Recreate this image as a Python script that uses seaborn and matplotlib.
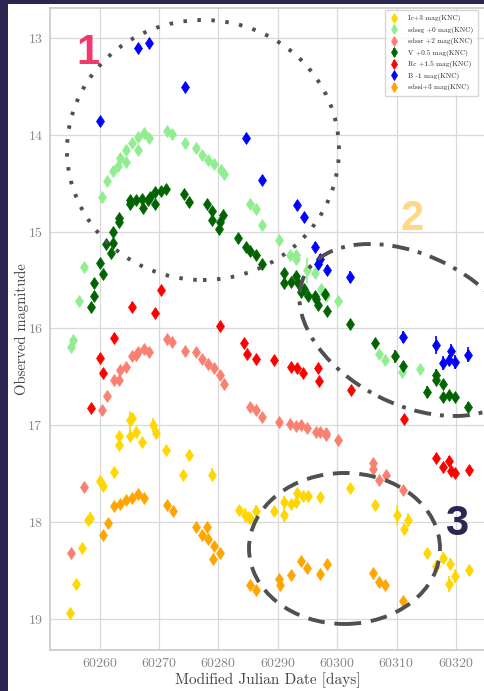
import matplotlib
matplotlib.use("Agg")
import matplotlib.pyplot as plt
import seaborn as sns
from matplotlib.patches import Ellipse, Rectangle
from matplotlib.transforms import IdentityTransform

# ---------------------------------------------------------------------------
# Light curves (magnitudes already shifted by the offsets given in the labels)
# ---------------------------------------------------------------------------
ic_mjd = [60255.0, 60256.1, 60257.1, 60258.0, 60258.4, 60260.1, 60260.5, 60262.5,
          60263.2, 60263.2, 60265.1, 60265.4, 60265.1, 60266.1, 60267.2, 60269.0,
          60269.5, 60271.2, 60274.1, 60275.1, 60279.0, 60283.4, 60284.5, 60285.0,
          60285.4, 60286.3, 60289.4, 60291.1, 60291.1, 60292.3, 60293.0, 60293.2,
          60294.3, 60295.1, 60297.1, 60302.2, 60306.3, 60310.0, 60311.2, 60311.9,
          60315.1, 60316.6, 60317.8, 60319.0, 60318.9, 60319.9, 60322.2]
ic_mag = [18.94, 18.64, 18.27, 17.98, 17.96, 17.58, 17.63, 17.48,
          17.11, 17.21, 16.95, 16.93, 17.11, 17.07, 17.17, 17.00,
          17.08, 17.26, 17.51, 17.31, 17.51, 17.88, 17.93, 17.95,
          17.96, 17.89, 17.89, 17.79, 17.93, 17.81, 17.79, 17.70,
          17.73, 17.73, 17.74, 17.65, 17.82, 17.93, 18.07, 17.98,
          18.32, 18.46, 18.37, 18.43, 18.64, 18.56, 18.50]
ic_err = [0.03, 0.03, 0.03, 0.04, 0.06, 0.05, 0.04, 0.05,
          0.04, 0.04, 0.10, 0.06, 0.06, 0.05, 0.04, 0.07,
          0.04, 0.04, 0.05, 0.05, 0.07, 0.04, 0.07, 0.04,
          0.04, 0.06, 0.05, 0.06, 0.07, 0.04, 0.04, 0.04,
          0.04, 0.04, 0.04, 0.03, 0.04, 0.10, 0.06, 0.07,
          0.05, 0.05, 0.06, 0.06, 0.08, 0.07, 0.06]

g_mjd = [60255.2, 60255.5, 60256.5, 60257.4, 60260.4, 60261.3, 60262.3, 60263.1,
         60263.4, 60264.5, 60264.5, 60265.4, 60266.4, 60266.4, 60267.4, 60268.4,
         60271.3, 60272.2, 60274.4, 60276.2, 60277.3, 60278.3, 60279.2, 60280.4,
         60280.9, 60285.3, 60286.3, 60287.3, 60290.2, 60292.0, 60293.0, 60293.0,
         60295.0, 60296.2, 60297.2, 60298.2, 60300.1, 60307.1, 60308.0, 60311.0,
         60313.9]
g_mag = [16.19, 16.12, 15.72, 15.37, 14.64, 14.48, 14.37, 14.32,
         14.24, 14.28, 14.16, 14.08, 14.02, 14.16, 13.98, 14.03,
         13.96, 13.99, 14.08, 14.14, 14.21, 14.26, 14.30, 14.36,
         14.40, 14.71, 14.77, 14.93, 15.09, 15.24, 15.24, 15.28,
         15.40, 15.43, 15.59, 15.67, 15.72, 16.26, 16.33, 16.45,
         16.42]
g_err = [0.03] * 32 + [0.13] + [0.03] * 8

r_mjd = [60255.2, 60257.4, 60260.4, 60261.3, 60262.4, 60263.2, 60263.4, 60264.5,
         60265.4, 60266.1, 60266.5, 60267.5, 60268.4, 60271.3, 60272.2, 60274.4,
         60276.3, 60277.3, 60278.3, 60279.3, 60280.3, 60280.9, 60285.3, 60286.3,
         60287.4, 60290.2, 60292.1, 60293.0, 60294.0, 60295.0, 60296.4, 60297.1,
         60298.2, 60298.2, 60300.1, 60306.0, 60306.0, 60307.1, 60308.2, 60311.1]
r_mag = [18.32, 17.64, 16.84, 16.70, 16.53, 16.53, 16.43, 16.40,
         16.29, 16.27, 16.24, 16.21, 16.24, 16.11, 16.14, 16.23,
         16.24, 16.32, 16.37, 16.41, 16.48, 16.57, 16.81, 16.84,
         16.92, 16.97, 16.99, 17.01, 17.00, 17.03, 17.07, 17.07,
         17.08, 17.10, 17.15, 17.39, 17.45, 17.57, 17.51, 17.67]
r_err = [0.03, 0.04] + [0.03] * 33 + [0.04, 0.04, 0.03, 0.03, 0.03]

v_mjd = [60258.5, 60259.1, 60259.1, 60260.1, 60260.5, 60261.1, 60262.0, 60262.2,
         60262.3, 60263.2, 60263.2, 60265.1, 60265.1, 60266.1, 60267.1, 60267.3,
         60268.2, 60268.5, 60269.3, 60269.4, 60270.3, 60271.2, 60274.2, 60275.1,
         60278.1, 60279.0, 60279.0, 60280.1, 60280.3, 60280.8, 60283.3, 60284.7,
         60285.3, 60286.3, 60287.3, 60291.1, 60291.1, 60292.3, 60293.0, 60293.4,
         60294.0, 60294.5, 60295.1, 60296.2, 60296.4, 60296.8, 60297.9, 60298.3,
         60302.2, 60306.3, 60309.8, 60311.1, 60315.2, 60316.7, 60316.7, 60317.9,
         60317.9, 60318.9, 60319.9, 60322.1]
v_mag = [15.78, 15.67, 15.53, 15.32, 15.44, 15.13, 15.22, 15.00,
         15.12, 14.86, 14.90, 14.67, 14.72, 14.67, 14.66, 14.76,
         14.67, 14.64, 14.59, 14.71, 14.58, 14.56, 14.61, 14.69,
         14.71, 14.79, 14.88, 14.97, 14.90, 14.83, 15.07, 15.16,
         15.20, 15.24, 15.33, 15.43, 15.53, 15.52, 15.46, 15.53,
         15.62, 15.59, 15.67, 15.67, 15.70, 15.76, 15.65, 15.82,
         15.95, 16.15, 16.29, 16.39, 16.66, 16.48, 16.53, 16.57,
         16.71, 16.69, 16.71, 16.81]
v_err = [0.04, 0.04, 0.04, 0.04, 0.03, 0.03, 0.04, 0.03,
         0.03, 0.03, 0.03, 0.03, 0.03, 0.04, 0.03, 0.03,
         0.03, 0.03, 0.03, 0.03, 0.03, 0.03, 0.04, 0.03,
         0.03, 0.03, 0.03, 0.03, 0.03, 0.03, 0.03, 0.03,
         0.03, 0.03, 0.03, 0.03, 0.03, 0.03, 0.03, 0.03,
         0.03, 0.03, 0.03, 0.03, 0.03, 0.03, 0.03, 0.03,
         0.04, 0.04, 0.07, 0.04, 0.06, 0.06, 0.04, 0.04,
         0.04, 0.04, 0.04, 0.05]

rc_mjd = [60258.5, 60260.0, 60260.5, 60262.4, 60265.4, 60269.4, 60270.3, 60280.3,
          60284.3, 60284.8, 60286.3, 60289.3, 60292.3, 60293.3, 60294.3, 60296.8,
          60296.9, 60302.3, 60311.2, 60316.7, 60317.9, 60318.9, 60319.1, 60319.9,
          60322.2]
rc_mag = [16.82, 16.31, 16.46, 16.10, 15.78, 15.84, 15.60, 15.98,
          16.15, 16.26, 16.32, 16.33, 16.40, 16.41, 16.46, 16.41,
          16.54, 16.64, 16.94, 17.34, 17.43, 17.37, 17.47, 17.49,
          17.46]
rc_err = [0.04] * 4 + [0.05] + [0.04] * 16 + [0.05] + [0.04] * 3

b_mjd = [60260.0, 60266.4, 60268.4, 60274.4, 60284.7, 60287.3, 60293.3, 60294.4,
         60296.3, 60296.8, 60297.1, 60298.3, 60302.2, 60311.1, 60316.7, 60317.9,
         60318.9, 60319.2, 60319.9, 60322.1]
b_mag = [13.86, 13.10, 13.05, 13.51, 14.03, 14.47, 14.73, 14.85,
         15.16, 15.33, 15.28, 15.40, 15.47, 16.09, 16.17, 16.36,
         16.33, 16.23, 16.35, 16.27]
b_err = [0.04, 0.04, 0.04, 0.04, 0.04, 0.04, 0.05, 0.04,
         0.05, 0.05, 0.05, 0.05, 0.06, 0.06, 0.09, 0.07,
         0.06, 0.07, 0.07, 0.08]

i_mjd = [60260.5, 60261.5, 60262.5, 60263.4, 60264.5, 60265.4, 60266.4, 60267.5,
         60271.3, 60272.4, 60276.3, 60277.3, 60278.1, 60278.3, 60279.3, 60279.1,
         60280.3, 60285.3, 60286.4, 60290.2, 60290.3, 60292.2, 60293.9, 60295.0,
         60297.1, 60298.3, 60306.0, 60307.1, 60308.0, 60311.1]
i_mag = [18.13, 18.01, 17.84, 17.81, 17.77, 17.75, 17.71, 17.75,
         17.83, 17.89, 18.05, 18.13, 18.05, 18.18, 18.25, 18.38,
         18.32, 18.65, 18.70, 18.59, 18.65, 18.55, 18.40, 18.48,
         18.54, 18.43, 18.53, 18.62, 18.65, 18.82]
i_err = [0.03] * 12 + [0.04, 0.03, 0.03, 0.05, 0.04, 0.03, 0.04, 0.04] + [0.03] * 9 + [0.04]

bands = [
    ("Ic+3 mag(KNC)", "#FFD700", ic_mjd, ic_mag, ic_err),
    ("sdssg +0 mag(KNC)", "lightgreen", g_mjd, g_mag, g_err),
    ("sdssr +2 mag(KNC)", "salmon", r_mjd, r_mag, r_err),
    ("V +0.5 mag(KNC)", "darkgreen", v_mjd, v_mag, v_err),
    ("Rc +1.5 mag(KNC)", "red", rc_mjd, rc_mag, rc_err),
    ("B -1 mag(KNC)", "blue", b_mjd, b_mag, b_err),
    ("sdssi+3 mag(KNC)", "orange", i_mjd, i_mag, i_err),
]

x_ticks = [60260, 60270, 60280, 60290, 60300, 60310, 60320]
y_ticks = [13, 14, 15, 16, 17, 18, 19]

# ---------------------------------------------------------------------------
sns.set_theme(style="whitegrid")
plt.rcParams["font.family"] = ["cmr10", "DejaVu Serif"]
plt.rcParams["axes.formatter.use_mathtext"] = True
plt.rcParams["mathtext.fontset"] = "cm"

W, H = 485, 691
fig = plt.figure(figsize=(W / 100, H / 100), dpi=100)
fig.patch.set_facecolor("#2a2650")
fig.add_artist(Rectangle((8 / W, 0), 1, (H - 4) / H, transform=fig.transFigure,
                         facecolor="white", edgecolor="none", zorder=-1))

ax = fig.add_axes([50 / W, 41 / H, 1 - 50 / W, 642 / H])
ax.set_facecolor("white")

for label, color, mjd, mag, err in bands:
    ax.errorbar(mjd, mag, yerr=err, fmt="d", color=color, ms=6, mew=0.5,
                elinewidth=1.2, capsize=0, label=label)

ax.set_xlim(60251.65, 60324.9)
ax.set_ylim(19.323, 12.69)
ax.set_xticks(x_ticks)
ax.set_yticks(y_ticks)
ax.tick_params(labelsize=10, labelcolor="#888888", length=0, pad=5)
ax.grid(color="#d9d9d9", lw=0.9)
for side in ("left", "bottom", "top"):
    ax.spines[side].set_color("#cccccc")
ax.spines["right"].set_visible(False)

ax.set_xlabel("Modified Julian Date [days]", fontsize=11, color="#444444", labelpad=2)
ax.set_ylabel("Observed magnitude", fontsize=10.5, color="#444444", labelpad=-1)

leg = ax.legend(loc="upper right", bbox_to_anchor=(0.984, 0.997), borderaxespad=0,
                fontsize=5.2, handlelength=1.2, handletextpad=1.3, labelspacing=0.62,
                borderpad=0.7, markerscale=0.85, frameon=True)
leg.get_frame().set_edgecolor("#cccccc")

# highlighted regions, laid out in figure pixels (origin top-left)
px = IdentityTransform()


def ring(cx, cy, w, h, angle, style):
    fig.add_artist(Ellipse((cx, H - cy), w, h, angle=angle, transform=px, fill=False,
                           edgecolor="#505050", lw=2.8, linestyle=style, zorder=5))


ring(203, 150, 272, 260, 0, (0, (0.9, 2.7)))
ring(412, 330, 241, 149, -27, (0, (4.4, 2.3, 1.0, 2.3)))
ring(344.5, 548.5, 191, 151, 0, (0, (4.3, 2.5)))

for txt, x, yb, col in [("1", 88, 64, "#f03a6c"), ("2", 412, 230, "#fdd886"),
                         ("3", 457, 535, "#2b2653")]:
    fig.text(x, H - yb, txt, transform=px, ha="center", va="baseline", fontsize=30,
             fontweight="bold", family="Liberation Sans", color=col, zorder=6)

fig.savefig("out.png", dpi=100, facecolor=fig.get_facecolor())
